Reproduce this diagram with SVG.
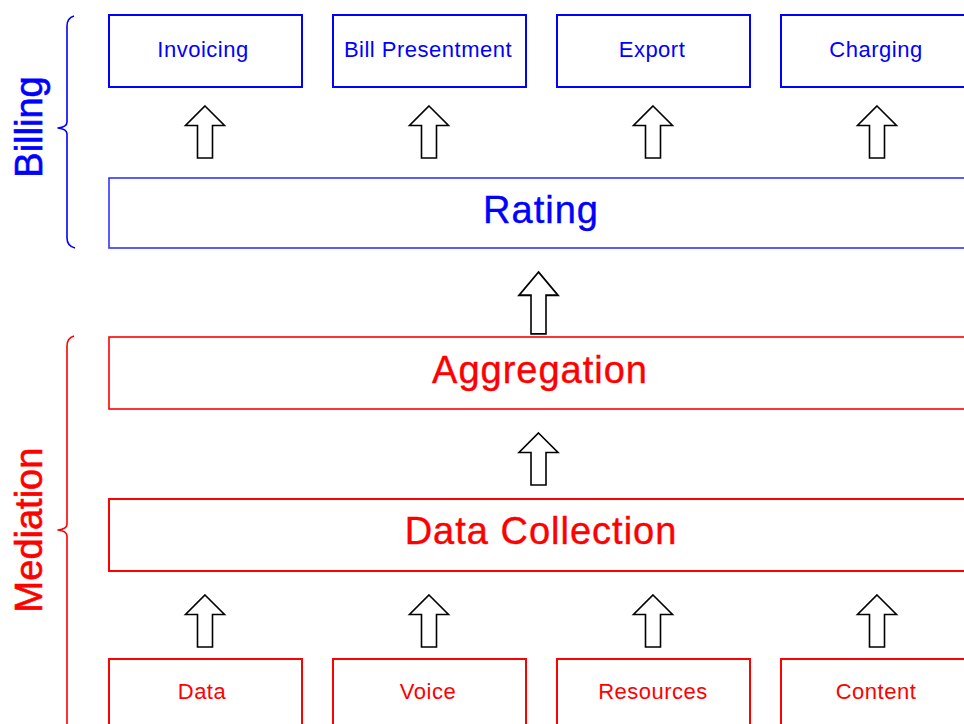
<svg xmlns="http://www.w3.org/2000/svg" width="964" height="724" viewBox="0 0 964 724">
  <style>
    .bill { fill: #ffffff; stroke: #0000ff; stroke-width: 2; }
    .band-b { fill: #ffffff; stroke: #3333ff; stroke-width: 1.6; }
    .med { fill: #ffffff; stroke: #ff0000; stroke-width: 2; }
    .band-m { fill: #ffffff; stroke: #ff0000; stroke-width: 1.6; }
    .small { font-family: "Liberation Sans", Arial, sans-serif; font-size: 22px; text-anchor: middle; letter-spacing: 0.5px; }
    .big { font-family: "Liberation Sans", Arial, sans-serif; font-size: 38px; text-anchor: middle; letter-spacing: 1px; stroke-width: 0.4; }
    .side { font-family: "Liberation Sans", Arial, sans-serif; font-size: 38px; text-anchor: middle; stroke-width: 0.6; }
    .blue { fill: #0000ff; }
    .red { fill: #ff0000; }
    .brace { fill: none; stroke-width: 1.6; stroke-linejoin: round; }
    .arrow { fill: #ffffff; stroke: #000000; stroke-width: 1.6; stroke-linejoin: miter; }
  </style>
  <defs>
    <!-- hollow block arrow pointing up; tip at (0,0) -->
    <path id="up" d="M0,0 L19.5,19.5 L7.5,19.5 L7.5,52 L-7.5,52 L-7.5,19.5 L-19.5,19.5 Z"/>
  </defs>

  <rect width="964" height="724" fill="#ffffff"/>

  <!-- Billing side label and brace -->
  <g id="billing-label">
    <path class="brace" stroke="#0000ff" d="M74,16 Q67,18 67,26 L67,122 Q67,127 58,128 Q67,129 67,134 L67,238 Q67,246 75,248"/>
    <text class="side blue" stroke="#0000ff" transform="translate(42,127) rotate(-90)">Billing</text>
  </g>

  <!-- Mediation side label and brace -->
  <g id="mediation-label">
    <path class="brace" stroke="#ff0000" d="M74,336 Q67,338 67,346 L67,524 Q67,529 58,530 Q67,531 67,536 L67,730"/>
    <text class="side red" stroke="#ff0000" transform="translate(42,530) rotate(-90)">Mediation</text>
  </g>

  <!-- billing outputs -->
  <g id="invoicing">
    <rect class="bill" x="109" y="15" width="193" height="72"/>
    <text class="small blue" x="203" y="57">Invoicing</text>
  </g>
  <g id="bill-presentment">
    <rect class="bill" x="333" y="15" width="193" height="72"/>
    <text class="small blue" x="428" y="57">Bill Presentment</text>
  </g>
  <g id="export">
    <rect class="bill" x="557" y="15" width="193" height="72"/>
    <text class="small blue" x="652" y="57">Export</text>
  </g>
  <g id="charging">
    <rect class="bill" x="781" y="15" width="193" height="72"/>
    <text class="small blue" x="876" y="57">Charging</text>
  </g>

  <!-- rating band -->
  <g id="rating">
    <rect class="band-b" x="109" y="178" width="866" height="70"/>
    <text class="big blue" stroke="#0000ff" x="541" y="223">Rating</text>
  </g>

  <!-- mediation layers -->
  <g id="aggregation">
    <rect class="band-m" x="109" y="337" width="866" height="72"/>
    <text class="big red" stroke="#ff0000" x="540" y="383">Aggregation</text>
  </g>
  <g id="data-collection">
    <rect class="med" x="109" y="499" width="866" height="72"/>
    <text class="big red" stroke="#ff0000" x="541" y="544">Data Collection</text>
  </g>

  <!-- sources -->
  <g id="data">
    <rect class="med" x="109" y="659" width="193" height="80"/>
    <text class="small red" x="202" y="699">Data</text>
  </g>
  <g id="voice">
    <rect class="med" x="333" y="659" width="193" height="80"/>
    <text class="small red" x="428" y="699">Voice</text>
  </g>
  <g id="resources">
    <rect class="med" x="557" y="659" width="193" height="80"/>
    <text class="small red" x="653" y="699">Resources</text>
  </g>
  <g id="content">
    <rect class="med" x="781" y="659" width="193" height="80"/>
    <text class="small red" x="876" y="699">Content</text>
  </g>

  <!-- flow arrows -->
  <g id="connectors">
    <use href="#up" class="arrow" transform="translate(205,106)"/>
    <use href="#up" class="arrow" transform="translate(429,106)"/>
    <use href="#up" class="arrow" transform="translate(653,106)"/>
    <use href="#up" class="arrow" transform="translate(877,106)"/>
    <use href="#up" class="arrow" transform="translate(538.5,272) scale(1,1.19)"/>
    <use href="#up" class="arrow" transform="translate(538.5,433)"/>
    <use href="#up" class="arrow" transform="translate(205,595)"/>
    <use href="#up" class="arrow" transform="translate(429,595)"/>
    <use href="#up" class="arrow" transform="translate(653,595)"/>
    <use href="#up" class="arrow" transform="translate(877,595)"/>
  </g>
</svg>
